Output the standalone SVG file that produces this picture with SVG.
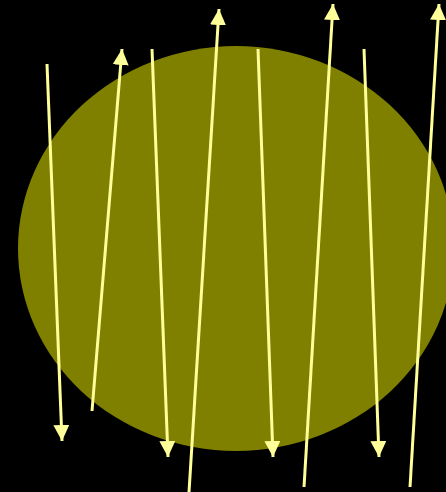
<svg xmlns="http://www.w3.org/2000/svg" width="446" height="492" viewBox="0 0 446 492">
<defs>
<style>
.ln{stroke:#ffff99;stroke-width:3;fill:none;marker-end:url(#ah)}
</style>
<marker id="ah" markerUnits="userSpaceOnUse" markerWidth="16" markerHeight="16" viewBox="0 0 16 16" refX="16" refY="8" orient="auto">
<path d="M0,0 L16,8 L0,16 Z" fill="#ffff99"/>
</marker>
</defs>
<rect width="446" height="492" fill="#000"/>
<g id="disc"><ellipse cx="236" cy="248.5" rx="218" ry="202.5" fill="#808000"/></g>
<g id="connectors">
<line class="ln" x1="47" y1="64" x2="62" y2="441"/>
<line class="ln" x1="92" y1="411" x2="122" y2="49"/>
<line class="ln" x1="152" y1="49" x2="168" y2="457"/>
<line class="ln" x1="189" y1="492" x2="219" y2="9"/>
<line class="ln" x1="258" y1="49" x2="273" y2="457"/>
<line class="ln" x1="304" y1="487" x2="333" y2="4"/>
<line class="ln" x1="364" y1="49" x2="379" y2="457"/>
<line class="ln" x1="410" y1="487" x2="439" y2="4"/>
</g>
</svg>
